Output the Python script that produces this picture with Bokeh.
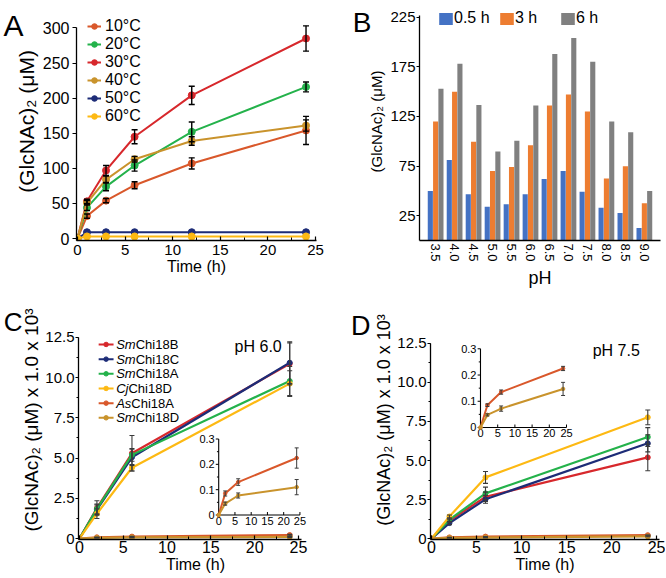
import math
from bokeh.plotting import figure
from bokeh.layouts import column, row
from bokeh.models import (ColumnDataSource, Range1d, FactorRange, Whisker, TeeHead, Legend,
                          LegendItem, Label, LinearAxis, SingleIntervalTicker, FixedTicker,
                          PrintfTickFormatter)
from bokeh.transform import dodge
from bokeh.core.properties import value
from bokeh.embed import file_html
from bokeh.resources import INLINE

# ======================= DATA =======================
# Panel A: (GlcNAc)2 production at different temperatures
TIME_A = [0, 1, 3, 6, 12, 24]
TEMPS = ["10°C", "20°C", "30°C", "40°C", "50°C", "60°C"]
A_10 = [0, 32, 54, 76, 107, 154]
A_20 = [0, 44, 74, 104, 152, 216]
A_30 = [0, 53, 97, 145, 204, 285]
A_40 = [0, 51, 84, 113, 139, 161]
A_50 = [0, 9, 9, 9, 9, 9]
A_60 = [0, 3, 3, 3, 3, 3]
A_10_ERR = [0, 3, 3, 5, 8, 20]
A_20_ERR = [0, 4, 6, 8, 14, 7]
A_30_ERR = [0, 3, 7, 10, 13, 18]
A_40_ERR = [0, 3, 5, 4, 6, 8]
A_50_ERR = [0, 0, 0, 0, 0, 0]
A_60_ERR = [0, 0, 0, 0, 0, 0]

# Panel B: pH profile
PH = ["3.5", "4.0", "4.5", "5.0", "5.5", "6.0", "6.5", "7.0", "7.5", "8.0", "8.5", "9.0"]
B_TIMES = ["0.5 h", "3 h", "6 h"]
B_HALF = [50, 81, 46.5, 34, 36.6, 46.5, 62, 70, 49, 33, 27.6, 12.7]
B_THREE = [120, 150, 99.5, 70, 74, 96, 136, 147, 130, 62.4, 74.7, 37.6]
B_SIX = [153, 178, 136.6, 89.6, 100.5, 136, 188, 204, 180, 120, 109, 50]
B_YTICKS = [25, 75, 125, 175, 225]

# Panels C and D: enzymes
TIME_CD = [0, 2, 6, 24]
ENZYMES = ["SmChi18B", "SmChi18C", "SmChi18A", "CjChi18D", "AsChi18A", "SmChi18D"]
ENZ_PREFIX = ["Sm", "Sm", "Sm", "Cj", "As", "Sm"]
ENZ_REST = ["Chi18B", "Chi18C", "Chi18A", "Chi18D", "Chi18A", "Chi18D"]

C_SM18B = [0, 1.9, 5.3, 10.85]
C_SM18C = [0, 1.8, 5.05, 10.92]
C_SM18A = [0, 1.85, 5.2, 9.78]
C_CJ18D = [0, 1.55, 4.4, 9.62]
C_AS18A = [0, 0.085, 0.13, 0.225]
C_SM18D = [0, 0.045, 0.077, 0.11]
C_SM18B_ERR = [0, 0.45, 1.1, 1.3]
C_SM18C_ERR = [0, 0.3, 0.5, 1.3]
C_SM18A_ERR = [0, 0.3, 0.4, 0.9]
C_CJ18D_ERR = [0, 0.3, 0.2, 0.8]
C_AS18A_ERR = [0, 0.01, 0.013, 0.04]
C_SM18D_ERR = [0, 0.006, 0.01, 0.03]

D_SM18B = [0, 1.15, 2.68, 5.2]
D_SM18C = [0, 1.0, 2.52, 6.1]
D_SM18A = [0, 1.22, 2.9, 6.5]
D_CJ18D = [0, 1.42, 3.92, 7.76]
D_AS18A = [0, 0.085, 0.135, 0.225]
D_SM18D = [0, 0.048, 0.072, 0.147]
D_SM18B_ERR = [0, 0.1, 0.3, 0.85]
D_SM18C_ERR = [0, 0.1, 0.25, 0.55]
D_SM18A_ERR = [0, 0.1, 0.4, 0.6]
D_CJ18D_ERR = [0, 0.1, 0.38, 0.47]
D_AS18A_ERR = [0, 0.005, 0.008, 0.008]
D_SM18D_ERR = [0, 0.004, 0.01, 0.025]

INSET_XTICKS = [0, 5, 10, 15, 20, 25]
INSET_YTICKS = [0, 0.1, 0.2, 0.3]
INSET_YMINOR = [0.05, 0.15, 0.25]

# ======================= STYLE =======================
FONT = "Liberation Sans"
RED, NAVY, GREEN = "#D7282C", "#1D2C77", "#24B24B"
YELLOW, ORANGE, GOLD = "#FDB913", "#D9582B", "#C9932C"
A_COLORS = [ORANGE, GREEN, RED, GOLD, NAVY, YELLOW]
ENZ_COLORS = [RED, NAVY, GREEN, YELLOW, ORANGE, GOLD]
B_COLORS = ["#4472C4", "#ED7D31", "#808080"]
ERR_DARK = "#3a3a3a"
# Liberation Sans Italic advance widths (em) for legend prefixes
ITALIC_W = {"S": 0.667, "m": 0.833, "C": 0.722, "j": 0.222, "A": 0.667, "s": 0.5}


def base_fig(w, h, xr, yr, left, right, top, bottom):
    p = figure(width=w, height=h, x_range=xr, y_range=yr, output_backend="svg", title=None,
               toolbar_location=None, min_border_left=left, min_border_right=right,
               min_border_top=top, min_border_bottom=bottom)
    p.xgrid.visible = False
    p.ygrid.visible = False
    p.outline_line_color = None
    for ax in (p.xaxis[0], p.yaxis[0]):
        ax.axis_line_color = "black"
        ax.axis_line_width = 1.3
        ax.major_tick_line_color = "black"
        ax.major_tick_line_width = 1.2
        ax.minor_tick_line_color = "black"
        ax.minor_tick_line_width = 1.0
        ax.major_label_text_font = FONT
        ax.axis_label_text_font = FONT
        ax.axis_label_text_font_style = "normal"
        ax.major_label_text_color = "black"
        ax.axis_label_text_color = "black"
    return p


def errorbars(p, t, vals, errs, color, width, head, **rn):
    keep = [i for i, e in enumerate(errs) if e > 0]
    if not keep:
        return
    src = ColumnDataSource(dict(x=[t[i] for i in keep],
                                lo=[vals[i] - errs[i] for i in keep],
                                hi=[vals[i] + errs[i] for i in keep]))
    p.add_layout(Whisker(source=src, base="x", lower="lo", upper="hi", line_color=color,
                         line_width=width, level="annotation",
                         upper_head=TeeHead(size=head, line_color=color, line_width=width),
                         lower_head=TeeHead(size=head, line_color=color, line_width=width), **rn))


def panel_letter(p, text, pos, size, standoff):
    """Panel letter drawn as the single tick label of an extra, outer left axis."""
    p.extra_y_ranges["letter"] = Range1d(0, 1000)
    ax = LinearAxis(y_range_name="letter", ticker=FixedTicker(ticks=[pos]),
                    major_label_overrides={pos: text})
    ax.axis_line_color = None
    ax.major_tick_line_color = None
    ax.minor_tick_line_color = None
    ax.major_tick_out = 0
    ax.major_tick_in = 0
    ax.minor_tick_out = 0
    ax.minor_tick_in = 0
    ax.major_label_standoff = standoff
    ax.major_label_text_font = FONT
    ax.major_label_text_font_size = size
    ax.major_label_text_color = "black"
    p.add_layout(ax, "left")


# ======================= PANEL A =======================
pA = base_fig(333, 290, Range1d(-0.1, 25.1), Range1d(-2.79, 336.3), 70, 17, 2, 45)
pA.yaxis.bounds = (-2.79, 301)
pA.yaxis.ticker = SingleIntervalTicker(interval=50, num_minor_ticks=0)
pA.yaxis.minor_tick_line_color = None
pA.yaxis.major_tick_out = 4
pA.yaxis.major_tick_in = 0
pA.yaxis.minor_tick_out = 0
pA.yaxis.major_label_standoff = 3
pA.yaxis.major_label_text_font_size = "16px"
pA.yaxis.axis_label = "(GlcNAc)₂ (μM)"
pA.yaxis.axis_label_text_font_size = "21px"
pA.yaxis.axis_label_standoff = 2
pA.xaxis.ticker = SingleIntervalTicker(interval=5, num_minor_ticks=2)
pA.xaxis.major_tick_in = 4
pA.xaxis.major_tick_out = 0
pA.xaxis.minor_tick_in = 3
pA.xaxis.minor_tick_out = 0
pA.xaxis.major_label_standoff = 4
pA.xaxis.major_label_text_font_size = "15px"
pA.xaxis.axis_label = "Time (h)"
pA.xaxis.axis_label_text_font_size = "16px"
pA.xaxis.axis_label_standoff = 0

A_SERIES = [(A_10, A_10_ERR), (A_20, A_20_ERR), (A_30, A_30_ERR),
            (A_40, A_40_ERR), (A_50, A_50_ERR), (A_60, A_60_ERR)]
a_items = []
for name, (vals, errs), col in zip(TEMPS, A_SERIES, A_COLORS):
    rl = pA.line(TIME_A, vals, line_color=col, line_width=2)
    rs = pA.scatter(TIME_A, vals, size=7, fill_color=col, line_color=col)
    errorbars(pA, TIME_A, vals, errs, "black", 1.4, 6)
    a_items.append(LegendItem(label=name, renderers=[rl, rs]))
legA = Legend(items=a_items, location=(11, 115), orientation="vertical", glyph_width=14,
              glyph_height=18, label_height=18, label_standoff=4, spacing=0, padding=0, margin=0,
              border_line_color=None, background_fill_alpha=0, label_text_font=FONT,
              label_text_font_size="16px", label_text_color="black")
pA.add_layout(legA)
panel_letter(pA, "A", 975, "30px", -12)

# ======================= PANEL B =======================
pB = base_fig(332, 290, FactorRange(factors=PH, range_padding=0.35, range_padding_units="absolute"),
              Range1d(0, 239.8), 86, 5, 2, 45)
pB.yaxis.bounds = (0, 227)
srcB = ColumnDataSource(dict(ph=PH, half=B_HALF, three=B_THREE, six=B_SIX))
b_items = []
for key, off, col, lab in zip(["half", "three", "six"], [-0.28, 0.0, 0.28], B_COLORS, B_TIMES):
    r = pB.vbar(x=dodge("ph", off, range=pB.x_range), top=key, width=0.27, source=srcB,
                fill_color=col, line_color=None)
    b_items.append(LegendItem(label=lab, renderers=[r]))
pB.yaxis.ticker = FixedTicker(ticks=B_YTICKS)
pB.yaxis.minor_tick_line_color = None
pB.yaxis.major_tick_out = 3
pB.yaxis.major_tick_in = 0
pB.yaxis.minor_tick_out = 0
pB.yaxis.major_label_standoff = 1
pB.yaxis.major_label_text_font_size = "15px"
pB.yaxis.axis_label = "(GlcNAc)₂ (μM)"
pB.yaxis.axis_label_text_font_size = "15px"
pB.yaxis.axis_label_standoff = 2
pB.xaxis.major_tick_line_color = None
pB.xaxis.minor_tick_line_color = None
pB.xaxis.major_tick_out = 0
pB.xaxis.minor_tick_out = 0
pB.xaxis.major_label_orientation = -math.pi / 2
pB.xaxis.major_label_standoff = 3
pB.xaxis.major_label_text_font_size = "13px"
pB.xaxis.axis_label = "pH"
pB.xaxis.axis_label_text_font_size = "18px"
pB.xaxis.axis_label_standoff = 3
legB = Legend(items=b_items, location=(18, 213), orientation="horizontal", glyph_width=17,
              glyph_height=15, label_height=15, label_width=44, label_standoff=0, spacing=0,
              padding=0, margin=0, border_line_color=None, background_fill_alpha=0,
              label_text_font=FONT, label_text_font_size="16px", label_text_color="black")
pB.add_layout(legB)
panel_letter(pB, "B", 970, "28px", -6)


# ======================= PANELS C & D =======================
def enzyme_panel(width, xr, yr, left, right, main, inset, inset_xr, inset_yr, ylabel_size,
                 ph_text, ph_xy):
    p = base_fig(width, 287, Range1d(*xr), Range1d(*yr), left, right, 10, 38)
    p.yaxis.bounds = (yr[0], 12.5)
    p.xaxis.bounds = (xr[0], 25.3)
    p.yaxis.ticker = SingleIntervalTicker(interval=2.5, num_minor_ticks=2)
    p.yaxis.formatter = PrintfTickFormatter(format="%.1f")
    p.yaxis.major_label_overrides = {0: "0"}
    p.yaxis.major_tick_out = 3
    p.yaxis.major_tick_in = 0
    p.yaxis.minor_tick_out = 2
    p.yaxis.minor_tick_in = 0
    p.yaxis.major_label_standoff = 1
    p.yaxis.major_label_text_font_size = "15px"
    p.yaxis.axis_label = "(GlcNAc)₂ (μM) x 1.0 x 10³"
    p.yaxis.axis_label_text_font_size = ylabel_size
    p.yaxis.axis_label_standoff = 0
    p.xaxis.ticker = SingleIntervalTicker(interval=5, num_minor_ticks=2)
    p.xaxis.major_tick_in = 4
    p.xaxis.major_tick_out = 0
    p.xaxis.minor_tick_in = 3
    p.xaxis.minor_tick_out = 0
    p.xaxis.major_label_standoff = 1
    p.xaxis.major_label_text_font_size = "16px"
    p.xaxis.axis_label = "Time (h)"
    p.xaxis.axis_label_text_font_size = "16px"
    p.xaxis.axis_label_standoff = 0

    for (vals, errs), col in zip(main, ENZ_COLORS):
        p.line(TIME_CD, vals, line_color=col, line_width=2.2)
        p.scatter(TIME_CD, vals, size=5, fill_color=col, line_color=col)
        errorbars(p, TIME_CD, vals, errs, ERR_DARK, 1.1, 5)

    # inset drawn on its own ranges
    p.extra_x_ranges = {"ix": Range1d(*inset_xr)}
    p.extra_y_ranges = {"iy": Range1d(*inset_yr)}
    kw = dict(x_range_name="ix", y_range_name="iy")
    p.segment(x0=[INSET_XTICKS[0]], y0=[0], x1=[INSET_XTICKS[-1]], y1=[0],
              line_color="black", line_width=1.1, **kw)
    p.segment(x0=[0], y0=[INSET_YTICKS[0]], x1=[0], y1=[INSET_YTICKS[-1]],
              line_color="black", line_width=1.1, **kw)
    tick_len_x = (inset_xr[1] - inset_xr[0]) / 80.0
    tick_len_y = (inset_yr[1] - inset_yr[0]) / 80.0
    p.segment(x0=[0] * len(INSET_YTICKS), y0=INSET_YTICKS, x1=[-tick_len_x] * len(INSET_YTICKS),
              y1=INSET_YTICKS, line_color="black", line_width=1, **kw)
    p.segment(x0=[0] * len(INSET_YMINOR), y0=INSET_YMINOR, x1=[-tick_len_x * 0.6] * len(INSET_YMINOR),
              y1=INSET_YMINOR, line_color="black", line_width=1, **kw)
    p.segment(x0=INSET_XTICKS, y0=[0] * len(INSET_XTICKS), x1=INSET_XTICKS,
              y1=[tick_len_y] * len(INSET_XTICKS), line_color="black", line_width=1, **kw)
    p.text(x=INSET_XTICKS, y=[0] * len(INSET_XTICKS), text=[f"{v:g}" for v in INSET_XTICKS],
           y_offset=2, text_align="center", text_baseline="top", text_font=value(FONT),
           text_font_size="11px", text_color="black", **kw)
    p.text(x=[0] * len(INSET_YTICKS), y=INSET_YTICKS, text=[f"{v:g}" for v in INSET_YTICKS],
           x_offset=-4, text_align="right", text_baseline="middle", text_font=value(FONT),
           text_font_size="11px", text_color="black", **kw)
    for (vals, errs), col in zip(inset, [ORANGE, GOLD]):
        p.line(TIME_CD, vals, line_color=col, line_width=2, **kw)
        p.scatter(TIME_CD, vals, size=3.5, fill_color=col, line_color=col, **kw)
        errorbars(p, TIME_CD, vals, errs, ERR_DARK, 1, 4, **kw)

    p.add_layout(Label(x=ph_xy[0], y=ph_xy[1], text=ph_text, text_font=FONT,
                       text_font_size="16px", text_color="black", text_align="center",
                       text_baseline="middle"))
    return p


C_MAIN = [(C_SM18B, C_SM18B_ERR), (C_SM18C, C_SM18C_ERR), (C_SM18A, C_SM18A_ERR),
          (C_CJ18D, C_CJ18D_ERR), (C_AS18A, C_AS18A_ERR), (C_SM18D, C_SM18D_ERR)]
D_MAIN = [(D_SM18B, D_SM18B_ERR), (D_SM18C, D_SM18C_ERR), (D_SM18A, D_SM18A_ERR),
          (D_CJ18D, D_CJ18D_ERR), (D_AS18A, D_AS18A_ERR), (D_SM18D, D_SM18D_ERR)]

pC = enzyme_panel(333, (-0.1, 26.6), (-0.05, 14.777), 70, 21, C_MAIN, C_MAIN[4:],
                  (-43.15, 28.87), (-0.0967, 0.8468), "19px", "pH 6.0", (20.4, 11.92))
pD = enzyme_panel(332, (-0.1, 25.3), (-0.05, 15.23), 97, 6, D_MAIN, D_MAIN[4:],
                  (-14.53, 52.03), (-0.427, 0.4841), "18px", "pH 7.5", (20.5, 12.03))

# Legend of panel C (italic species prefix + roman name)
LEG_X0, LEG_X1, LEG_XT = 2.2, 3.9, 4.2
LEG_Y0, LEG_DY = 12.05, 0.91
LEG_FS = 13
leg_y = [LEG_Y0 - i * LEG_DY for i in range(len(ENZYMES))]
pC.segment(x0=[LEG_X0] * 6, y0=leg_y, x1=[LEG_X1] * 6, y1=leg_y, line_color=ENZ_COLORS, line_width=2)
pC.scatter(x=[(LEG_X0 + LEG_X1) / 2] * 6, y=leg_y, size=4.5, fill_color=ENZ_COLORS,
           line_color=ENZ_COLORS)
pre_w = [sum(ITALIC_W[ch] for ch in s) * LEG_FS for s in ENZ_PREFIX]
src_leg = ColumnDataSource(dict(x=[LEG_XT] * 6, y=leg_y, pre=ENZ_PREFIX, rest=ENZ_REST, xo=pre_w))
pC.text(x="x", y="y", text="pre", source=src_leg, text_font=value(FONT), text_font_style="italic",
        text_font_size=f"{LEG_FS}px", text_baseline="middle", text_align="left", text_color="black")
pC.text(x="x", y="y", text="rest", x_offset="xo", source=src_leg, text_font=value(FONT),
        text_font_size=f"{LEG_FS}px", text_baseline="middle", text_align="left", text_color="black")

panel_letter(pC, "C", 908, "26px", -4)
panel_letter(pD, "D", 895, "27px", 1)

layout = column(row(pA, pB), row(pC, pD))
open("out.html", "w").write(file_html(layout, INLINE))
